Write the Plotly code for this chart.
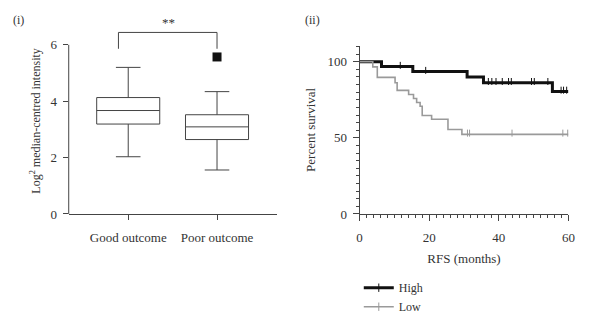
import numpy as np
import plotly.graph_objects as go

# ---- (i) box plot summary statistics ----
groups = ["Good outcome", "Poor outcome"]
q1 = [3.19, 2.64]
median = [3.67, 3.09]
q3 = [4.13, 3.52]
lower_whisker = [2.03, 1.56]
upper_whisker = [5.20, 4.34]
outlier_group = ["Poor outcome"]
outlier_value = [5.57]

# ---- (ii) Kaplan-Meier curves ----
high_times = [0, 6.3, 15.3, 30.9, 35.6, 55.4]
high_surv = [100, 96.8, 93.5, 89.9, 86.2, 80.5]
high_censored = [11.7, 19.0, 37.0, 38.0, 39.2, 41.0, 42.8, 43.6, 49.4, 50.2, 54.1, 57.9, 58.6, 59.5]

low_times = [0, 3.8, 5.1, 10.2, 10.8, 14.1, 15.5, 16.4, 17.4, 18.0, 20.7, 25.4, 29.4]
low_surv = [100, 96.6, 89.7, 86.2, 81.2, 78.5, 75.8, 73.2, 70.7, 64.7, 62.2, 55.5, 52.3]
low_censored = [31.0, 31.6, 43.8, 58.4, 59.8]

follow_up_end = 60

FONT = "Liberation Serif"
TXT = "#333333"
AX = "#444444"


def step_value(times, surv, t):
    idx = np.searchsorted(np.asarray(times), t, side="right") - 1
    return [surv[i] for i in idx]


fig = go.Figure()

# boxes
for g, a, m, b, lo, hi in zip(groups, q1, median, q3, lower_whisker, upper_whisker):
    fig.add_trace(go.Box(
        x=[g], q1=[a], median=[m], q3=[b], lowerfence=[lo], upperfence=[hi],
        width=0.71, whiskerwidth=0.39, fillcolor="white",
        line=dict(color=AX, width=1), boxpoints=False,
        xaxis="x", yaxis="y", showlegend=False, hoverinfo="skip",
    ))

fig.add_trace(go.Scatter(
    x=outlier_group, y=outlier_value, mode="markers",
    marker=dict(symbol="square", size=9, color="#111111"),
    xaxis="x", yaxis="y", showlegend=False, cliponaxis=False,
))

# survival curves
curves = [
    ("High", high_times, high_surv, high_censored, "#111111", 3),
    ("Low", low_times, low_surv, low_censored, "#9a9a9a", 1.6),
]
for name, t, s, cens, color, lw in curves:
    fig.add_trace(go.Scatter(
        x=list(t) + [follow_up_end], y=list(s) + [s[-1]],
        mode="lines", line=dict(color=color, width=lw, shape="hv"),
        xaxis="x2", yaxis="y2", showlegend=False, hoverinfo="skip",
    ))
    fig.add_trace(go.Scatter(
        x=cens, y=[v + 0.8 for v in step_value(t, s, cens)], mode="markers",
        marker=dict(symbol="line-ns-open", size=5, color=color,
                    line=dict(color=color, width=1)),
        xaxis="x2", yaxis="y2", showlegend=False, cliponaxis=False, hoverinfo="skip",
    ))
    # legend entry: line with a censoring tick
    fig.add_trace(go.Scatter(
        x=[None], y=[None], name=name, mode="lines+markers",
        line=dict(color=color, width=lw),
        marker=dict(symbol="line-ns-open", size=6, color=color,
                    line=dict(color=color, width=1)),
        xaxis="x2", yaxis="y2",
    ))

# significance bracket
fig.add_shape(type="path", path="M -0.11 5.86 L -0.11 6.44 L 1.0 6.44 L 1.0 5.86",
              xref="x", yref="y", line=dict(color=AX, width=1))
fig.add_annotation(x=0.45, y=6.44, xref="x", yref="y", text="**", showarrow=False,
                   yanchor="bottom", yshift=0, font=dict(family=FONT, size=13, color=TXT))
# left y-axis line (stops at 6)
fig.add_shape(type="line", x0=0.1112, x1=0.1112, y0=0, y1=6, xref="paper", yref="y",
              line=dict(color=AX, width=1))

# panel labels
fig.add_annotation(x=8 / 600, y=1 - 21 / 330, xref="paper", yref="paper", text="(i)",
                   showarrow=False, xanchor="left", yanchor="middle",
                   font=dict(family=FONT, size=12, color=TXT))
fig.add_annotation(x=305 / 600, y=1 - 21 / 330, xref="paper", yref="paper", text="(ii)",
                   showarrow=False, xanchor="left", yanchor="middle",
                   font=dict(family=FONT, size=12, color=TXT))

axis_font = dict(family=FONT, size=13, color=TXT)
title_font = dict(family=FONT, size=13, color=TXT)

fig.update_layout(
    width=600, height=330,
    margin=dict(l=0, r=0, t=0, b=0),
    paper_bgcolor="white", plot_bgcolor="white",
    font=dict(family=FONT, size=13, color=TXT),
    xaxis=dict(
        domain=[0.1112, 0.4628], type="category", range=[-0.67, 1.67],
        showline=True, linecolor=AX, linewidth=1, ticks="outside", ticklen=5,
        tickcolor=AX, showgrid=False, zeroline=False, tickfont=axis_font,
        ticklabelstandoff=6,
    ),
    yaxis=dict(
        domain=[0.3355, 0.9133], range=[0, 6.6], tickvals=[0, 2, 4, 6],
        showline=False, ticks="outside", ticklen=5, tickcolor=AX,
        showgrid=False, zeroline=False, tickfont=axis_font, ticklabelstandoff=3,
        title=dict(text="Log<sup>2</sup> median-centred intensity",
                   font=dict(family=FONT, size=12, color=TXT), standoff=7),
    ),
    xaxis2=dict(
        domain=[0.6033, 0.9567], range=[0, 60], tickvals=[0, 20, 40, 60],
        showline=True, linecolor=AX, linewidth=1, ticks="outside", ticklen=6,
        tickcolor=AX, showgrid=False, zeroline=False, tickfont=axis_font,
        ticklabelstandoff=5,
        minor=dict(dtick=2, ticks="outside", ticklen=3, tickcolor=AX, showgrid=False),
        title=dict(text="RFS (months)", font=title_font, standoff=10),
        anchor="y2",
    ),
    yaxis2=dict(
        domain=[0.3355, 0.858], range=[0, 110.5], tickvals=[0, 50, 100],
        showline=True, linecolor=AX, linewidth=1, ticks="outside", ticklen=6,
        tickcolor=AX, showgrid=False, zeroline=False, tickfont=axis_font,
        ticklabelstandoff=3,
        minor=dict(dtick=5, ticks="outside", ticklen=3, tickcolor=AX, showgrid=False),
        title=dict(text="Percent survival", font=title_font, standoff=8),
        anchor="x2",
    ),
    legend=dict(x=0.602, y=1 - 280 / 330, xanchor="left", yanchor="top",
                font=dict(family=FONT, size=12, color=TXT), bgcolor="rgba(0,0,0,0)",
                tracegroupgap=0, itemwidth=30),
    showlegend=True,
)

fig.write_html("out.html")
